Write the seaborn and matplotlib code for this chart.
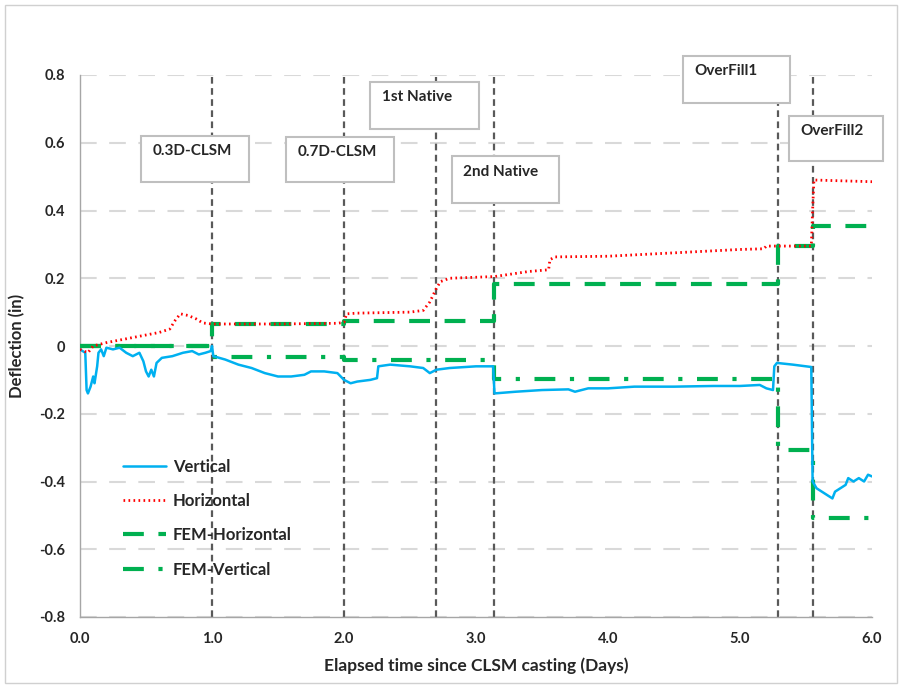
import seaborn as sns
import matplotlib.pyplot as plt
import pandas as pd
from matplotlib.patches import Rectangle

# ------------------------------
# data
# ------------------------------
vert_t = [0.00, 0.04, 0.05, 0.06, 0.08, 0.10, 0.11, 0.13, 0.14, 0.16, 0.18, 0.20,
          0.25, 0.30, 0.35, 0.40, 0.45, 0.48, 0.50, 0.52, 0.54, 0.56, 0.58, 0.62,
          0.70, 0.78, 0.85, 0.90, 0.95, 0.99, 1.00, 1.01, 1.10, 1.20, 1.30, 1.40,
          1.50, 1.60, 1.70, 1.75, 1.85, 1.95, 2.00, 2.05, 2.10, 2.20, 2.25, 2.26,
          2.35, 2.50, 2.60, 2.65, 2.70, 2.80, 3.00, 3.13, 3.14, 3.30, 3.50, 3.70,
          3.75, 3.85, 4.00, 4.20, 4.50, 4.80, 5.00, 5.15, 5.20, 5.25, 5.26, 5.28,
          5.40, 5.54, 5.55, 5.58, 5.62, 5.66, 5.70, 5.72, 5.76, 5.80, 5.82, 5.86,
          5.90, 5.94, 5.97, 6.00]
vert_d = [-0.010, -0.020, -0.130, -0.140, -0.120, -0.090, -0.110, -0.060, -0.020, -0.010, -0.030, -0.005,
          -0.010, -0.005, -0.020, -0.030, -0.020, -0.045, -0.075, -0.090, -0.070, -0.090, -0.050, -0.035,
          -0.030, -0.020, -0.015, -0.025, -0.020, -0.015, 0.000, -0.030, -0.040, -0.055, -0.065, -0.080,
          -0.090, -0.090, -0.085, -0.075, -0.075, -0.080, -0.100, -0.110, -0.105, -0.100, -0.095, -0.060,
          -0.055, -0.060, -0.065, -0.080, -0.070, -0.065, -0.060, -0.060, -0.140, -0.135, -0.130, -0.128,
          -0.135, -0.125, -0.125, -0.120, -0.120, -0.118, -0.118, -0.115, -0.125, -0.130, -0.060, -0.050,
          -0.055, -0.062, -0.400, -0.420, -0.430, -0.440, -0.450, -0.430, -0.420, -0.410, -0.390, -0.400,
          -0.390, -0.400, -0.380, -0.385]

horiz_t = [0.00, 0.06, 0.10, 0.20, 0.40, 0.60, 0.68, 0.72, 0.76, 0.82, 0.88, 0.93,
           1.00, 1.50, 1.95, 2.00, 2.02, 2.10, 2.50, 2.60, 2.65, 2.70, 2.73, 2.80,
           3.14, 3.40, 3.55, 3.56, 3.60, 4.00, 4.50, 5.00, 5.18, 5.20, 5.54, 5.55,
           5.56, 6.00]
horiz_d = [-0.010, -0.020, 0.000, 0.010, 0.025, 0.040, 0.050, 0.075, 0.095, 0.090, 0.080, 0.068,
           0.065, 0.065, 0.067, 0.070, 0.095, 0.097, 0.100, 0.105, 0.130, 0.170, 0.190, 0.200,
           0.205, 0.220, 0.225, 0.255, 0.263, 0.265, 0.275, 0.285, 0.287, 0.295, 0.295, 0.400,
           0.490, 0.485]

# FEM results change at each construction stage
stage_t = [0.0, 1.0, 2.0, 3.14, 5.29, 5.55, 6.0]
fem_horiz = [0.0, 0.065, 0.073, 0.183, 0.295, 0.354, 0.354]
fem_vert = [0.0, -0.032, -0.041, -0.097, -0.307, -0.507, -0.507]

# construction events
event_t = [1.0, 2.0, 2.70, 3.14, 5.29, 5.55]
event_labels = ["0.3D-CLSM", "0.7D-CLSM", "1st Native", "2nd Native", "OverFill1", "OverFill2"]
# label boxes: (x0, y0, x1, y1) in data units
event_boxes = [(0.462, 0.484, 1.280, 0.620),
               (1.561, 0.484, 2.379, 0.617),
               (2.200, 0.642, 3.020, 0.780),
               (2.818, 0.423, 3.629, 0.560),
               (4.568, 0.717, 5.379, 0.856),
               (5.370, 0.546, 6.080, 0.679)]

# ------------------------------
# style
# ------------------------------
sns.set_style("white")
plt.rcParams["font.family"] = ["Lato", "DejaVu Sans"]
plt.rcParams["font.weight"] = "bold"

fig = plt.figure(figsize=(9.02, 6.88), dpi=100)
ax = fig.add_axes([80 / 902, 1 - 617 / 688, 792 / 902, 542 / 688])

blue = "#00b0f0"
red = "#ff0000"
green = "#00b050"

df_v = pd.DataFrame({"t": vert_t, "d": vert_d})
df_h = pd.DataFrame({"t": horiz_t, "d": horiz_d})
df_fh = pd.DataFrame({"t": stage_t, "d": fem_horiz})
df_fv = pd.DataFrame({"t": stage_t, "d": fem_vert})

sns.lineplot(data=df_v, x="t", y="d", ax=ax, color=blue, lw=1.8,
             estimator=None, sort=False, label="Vertical", zorder=4)
sns.lineplot(data=df_h, x="t", y="d", ax=ax, color=red, lw=2.0,
             estimator=None, sort=False, label="Horizontal", zorder=4)
ax.lines[-1].set_linestyle((0, (0.6, 1.2)))
sns.lineplot(data=df_fh, x="t", y="d", ax=ax, color=green, lw=3.0,
             estimator=None, sort=False, drawstyle="steps-post",
             label="FEM-Horizontal", zorder=3)
ax.lines[-1].set_linestyle((0, (5, 3.5)))
sns.lineplot(data=df_fv, x="t", y="d", ax=ax, color=green, lw=3.0,
             estimator=None, sort=False, drawstyle="steps-post",
             label="FEM-Vertical", zorder=3)
ax.lines[-1].set_linestyle((0, (5, 3.5, 1, 3.5)))

# event lines and label boxes
for t in event_t:
    ax.axvline(t, color="#595959", lw=1.6, ls=(0, (3, 2)), zorder=2)
for lab, (x0, y0, x1, y1) in zip(event_labels, event_boxes):
    ax.add_patch(Rectangle((x0, y0), x1 - x0, y1 - y0, facecolor="white",
                           edgecolor="#bfbfbf", lw=1.5, zorder=5, clip_on=False))
    ax.text(x0 + 0.085, y1 - 0.025, lab, ha="left", va="top", fontsize=11,
            fontweight="bold", zorder=6, clip_on=False)

# axes
ax.set_xlim(0, 6)
ax.set_ylim(-0.8, 0.8)
ax.set_xticks([0, 1, 2, 3, 4, 5, 6])
ax.set_xticklabels(["0.0", "1.0", "2.0", "3.0", "4.0", "5.0", "6.0"])
ax.set_yticks([-0.8, -0.6, -0.4, -0.2, 0, 0.2, 0.4, 0.6, 0.8])
ax.set_yticklabels(["-0.8", "-0.6", "-0.4", "-0.2", "0", "0.2", "0.4", "0.6", "0.8"])
ax.tick_params(axis="both", direction="out", length=5, color="#a6a6a6",
               labelsize=10.5, pad=6)
ax.yaxis.grid(True, color="#d9d9d9", lw=1.5, ls=(0, (8, 6)))
ax.set_axisbelow(True)
for side in ["top", "right"]:
    ax.spines[side].set_visible(False)
for side in ["left", "bottom"]:
    ax.spines[side].set_color("#a6a6a6")
    ax.spines[side].set_linewidth(1.0)

ax.set_xlabel("Elapsed time since CLSM casting (Days)", fontsize=12.5,
              fontweight="bold", labelpad=8)
ax.set_ylabel("Deflection (in)", fontsize=12, fontweight="bold", labelpad=10)

ax.legend(loc="upper left", bbox_to_anchor=(0.035, 0.32), frameon=False,
          prop={"size": 12, "weight": "bold"}, handlelength=2.6,
          labelspacing=1.1, handletextpad=0.4)

# outer chart-area border
fig.patches.append(Rectangle((5 / 902, 5 / 688), 892 / 902, 678 / 688,
                             transform=fig.transFigure, fill=False,
                             edgecolor="#d0d0d0", lw=1.0))

fig.savefig("out.png", dpi=100)
plt.close(fig)
